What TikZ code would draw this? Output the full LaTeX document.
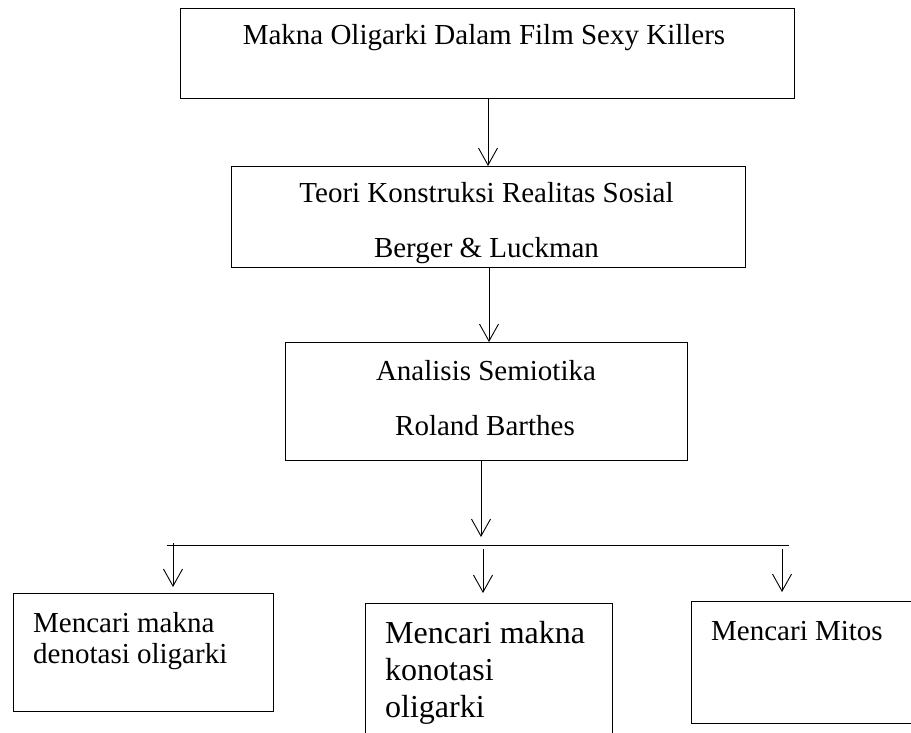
\documentclass[tikz,border=0pt]{standalone}
\usepackage{fontspec}
\setmainfont{Liberation Serif}
\usetikzlibrary{arrows.meta}
\begin{document}
\begin{tikzpicture}[x=1pt,y=-1pt,
  box/.style={draw, line width=1.2pt, rectangle, inner sep=0pt, anchor=north west},
  conn/.style={line width=0.9pt, -{Straight Barb[length=17pt,width=19pt,line width=0.9pt]}},
  txt/.style={font=\fontsize{29}{33}\selectfont, inner sep=0pt, anchor=base},
  txtl/.style={txt, anchor=base west},
  txtbig/.style={font=\fontsize{32}{36}\selectfont, inner sep=0pt, anchor=base west},
  ]
\useasboundingbox (0,0) rectangle (911,733);
\clip (0,0) rectangle (911,733);
\fill[white] (0,0) rectangle (911,733);

% boxes
\node[box, minimum width=614pt, minimum height=90pt] (b1) at (180,8) {};
\node[box, minimum width=514pt, minimum height=101pt] (b2) at (231,166) {};
\node[box, minimum width=402pt, minimum height=118pt] (b3) at (285,342) {};
\node[box, minimum width=260pt, minimum height=118pt] (b4) at (13,593) {};
\node[box, minimum width=247pt, minimum height=160pt] (b5) at (365,603) {};
\node[box, minimum width=250pt, minimum height=122pt] (b6) at (691,601) {};

% texts
\node[txt] (t1) at (484,45) {Makna Oligarki Dalam Film Sexy Killers};
\node[txt] (t2a) at (486.5,203) {Teori Konstruksi Realitas Sosial};
\begin{scope}
  \clip (b2.north west) rectangle (b2.south east);
  \node[txt] (t2b) at (486.5,258) {Berger \& Luckman};
\end{scope}
\node[txt] (t3a) at (486,380) {Analisis Semiotika};
\node[txt] (t3b) at (485,435) {Roland Barthes};
\node[txtl] (t4a) at (33,632) {Mencari makna};
\node[txtl] (t4b) at (33,663) {denotasi oligarki};
\node[txtbig] (t5a) at (385,643) {Mencari makna};
\node[txtbig] (t5b) at (385,680) {konotasi};
\node[txtbig] (t5c) at (385,717) {oligarki};
\node[txtl] (t6) at (711,640) {Mencari Mitos};

% connectors
\coordinate (j) at (481,537);
\coordinate (hl) at (167,545);
\coordinate (hr) at (789,545);
\coordinate (s4) at (173,543);
\coordinate (s5) at (483,549);
\coordinate (s6) at (782,549);

\draw[conn] (b1.south -| 488,0) -- (b2.north -| 488,0);
\draw[conn] (b2.south -| 489,0) -- (b3.north -| 489,0);
\draw[conn] (b3.south -| j) -- (j);
\draw[line width=1pt] (hl) -- (hr);
\draw[conn, shorten >=6pt] (s4) -- (s4 |- b4.north);
\draw[conn, shorten >=10pt] (s5) -- (s5 |- b5.north);
\draw[conn, shorten >=9pt] (s6) -- (s6 |- b6.north);
\end{tikzpicture}
\end{document}
